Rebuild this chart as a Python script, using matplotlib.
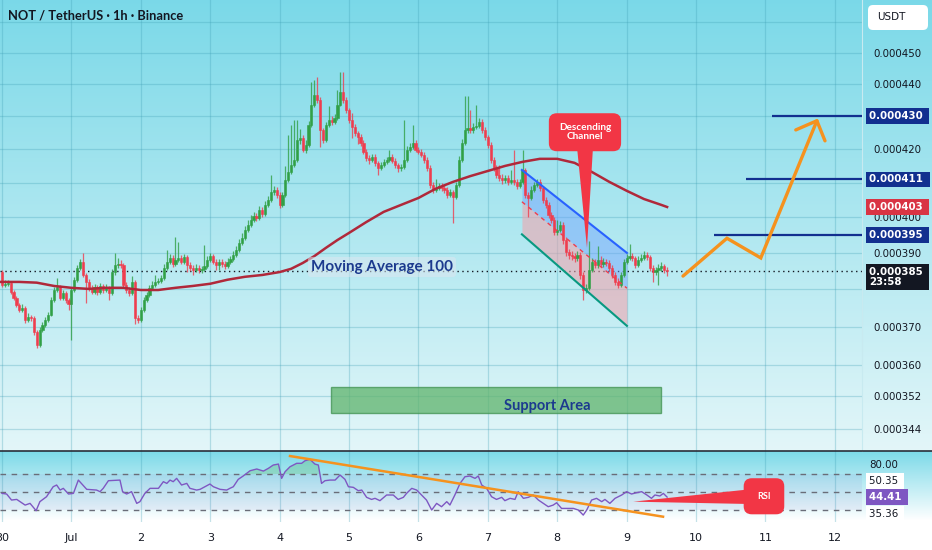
import numpy as np
import matplotlib.pyplot as plt
from matplotlib.patches import FancyBboxPatch, Polygon, Rectangle
from matplotlib.lines import Line2D
from matplotlib.ticker import FixedLocator, NullLocator, FuncFormatter, NullFormatter

# prices are in millionths of USDT (0.000385 -> 385.0), x is hours since 30 Jun 00:00
first_open = 384.7
closes = [
    381.2, 381.5, 381.8, 379.3, 377.7, 375.8, 374.5, 375.0, 371.8, 372.6, 372.3, 368.6,
    365.2, 369.1, 370.5, 371.8, 373.1, 377.1, 379.8, 380.6, 377.7, 379.0, 377.1, 376.0,
    379.8, 382.6, 385.9, 387.5, 383.9, 382.0, 380.4, 379.3, 380.6, 379.3, 380.9, 379.8,
    380.4, 379.0, 384.7, 386.7, 387.0, 386.7, 381.2, 379.8, 379.0, 382.0, 372.3, 371.8,
    374.5, 377.1, 378.5, 380.4, 381.2, 382.0, 382.3, 383.1, 385.9, 387.5, 388.6, 387.0,
    388.1, 388.6, 387.5, 388.8, 386.7, 385.9, 385.3, 385.9, 385.3, 385.6, 386.4, 388.1,
    389.1, 387.5, 386.7, 387.5, 387.0, 386.4, 387.5, 388.3, 389.4, 390.8, 392.8, 394.2,
    396.5, 397.9, 399.3, 400.4, 399.9, 402.2, 401.0, 403.6, 405.0, 407.4, 408.0, 406.5,
    403.6, 406.5, 410.9, 413.2, 415.3, 416.8, 422.8, 423.4, 419.8, 421.3, 427.3, 433.5,
    436.6, 435.0, 425.8, 422.8, 427.3, 428.9, 428.2, 429.5, 433.5, 437.5, 435.0, 431.9,
    428.9, 426.7, 424.9, 423.7, 421.9, 419.2, 417.4, 416.8, 417.7, 415.9, 414.4, 415.3,
    416.2, 416.8, 417.7, 416.5, 415.3, 414.4, 414.7, 416.8, 419.8, 420.7, 421.9, 419.8,
    419.2, 418.3, 416.8, 414.4, 409.4, 408.0, 408.5, 409.1, 408.5, 408.0, 406.5, 407.4,
    405.9, 409.4, 416.8, 421.9, 425.8, 426.4, 425.8, 426.7, 427.0, 428.2, 425.8, 423.7,
    421.3, 416.8, 414.4, 412.3, 411.5, 410.9, 411.5, 410.3, 410.9, 410.3, 409.1, 410.3,
    413.8, 406.5, 405.6, 408.0, 409.4, 410.3, 408.5, 405.0, 403.6, 400.7, 399.3, 395.9,
    396.5, 397.9, 393.6, 390.2, 389.4, 389.1, 388.6, 389.4, 383.9, 379.8, 380.4, 385.3,
    387.5, 386.7, 388.1, 387.0, 387.5, 387.2, 385.9, 383.9, 382.0, 381.2, 383.9, 387.5,
    388.6, 389.1, 388.6, 386.7, 388.1, 388.6, 389.4, 388.8, 385.9, 384.7, 385.3, 385.9,
    386.4, 385.3, 385.0,
]
highs = [
    385.3, 382.4, 382.6, 382.3, 379.9, 378.2, 376.4, 375.9, 375.4, 373.5, 373.2, 372.8,
    369.0, 369.8, 371.2, 372.6, 374.0, 377.9, 380.6, 383.2, 381.2, 379.8, 379.5, 377.6,
    380.5, 383.4, 386.6, 388.4, 390.0, 384.5, 382.7, 381.1, 381.5, 381.2, 381.8, 381.5,
    381.3, 381.0, 385.6, 390.0, 388.6, 387.9, 387.2, 381.9, 380.6, 383.6, 382.6, 373.0,
    375.3, 377.9, 379.3, 381.2, 382.3, 384.0, 383.2, 384.0, 386.8, 390.8, 389.6, 389.3,
    394.4, 393.0, 389.4, 389.8, 389.4, 387.4, 386.6, 386.8, 386.7, 386.5, 392.2, 389.0,
    390.0, 389.8, 388.2, 388.4, 388.3, 387.7, 388.5, 389.2, 390.4, 392.0, 393.8, 395.5,
    397.6, 399.2, 400.6, 401.5, 401.3, 403.3, 403.0, 404.8, 406.2, 412.3, 409.2, 408.8,
    407.2, 407.4, 415.0, 424.3, 427.3, 428.9, 428.9, 426.0, 424.2, 422.6, 428.5, 440.6,
    441.3, 442.3, 436.0, 426.5, 428.2, 433.2, 430.0, 430.6, 438.1, 443.8, 443.8, 435.8,
    432.6, 431.0, 427.6, 425.6, 424.5, 422.6, 420.0, 418.2, 418.6, 418.4, 416.6, 416.2,
    417.1, 417.6, 419.8, 418.4, 417.2, 416.0, 415.6, 428.9, 420.8, 421.8, 427.3, 422.6,
    420.6, 420.0, 419.0, 417.5, 415.3, 410.3, 411.2, 410.0, 410.0, 409.4, 408.8, 408.3,
    408.0, 410.3, 417.8, 423.0, 436.3, 436.3, 432.0, 427.8, 433.5, 429.3, 429.0, 426.6,
    424.4, 422.0, 417.5, 415.3, 415.3, 412.5, 412.4, 412.3, 413.8, 419.8, 411.2, 411.2,
    419.8, 414.5, 407.4, 409.0, 410.3, 411.2, 411.0, 409.2, 405.8, 404.4, 401.6, 400.2,
    399.3, 399.0, 398.6, 394.4, 391.1, 390.4, 390.0, 390.5, 390.2, 384.6, 381.4, 393.2,
    388.6, 388.4, 392.0, 389.0, 388.5, 388.3, 388.0, 386.6, 384.6, 383.0, 384.8, 388.4,
    389.8, 392.4, 390.0, 389.2, 389.0, 389.6, 390.6, 390.2, 389.4, 386.6, 386.2, 386.8,
    387.6, 387.0, 386.2,
]
lows = [
    380.6, 380.5, 380.9, 378.6, 377.0, 375.1, 373.8, 373.9, 371.0, 371.2, 371.4, 367.9,
    364.3, 364.6, 368.6, 370.0, 371.2, 372.8, 376.6, 379.2, 377.0, 377.1, 376.4, 374.5,
    366.5, 379.2, 382.0, 385.3, 383.3, 376.3, 379.6, 378.6, 378.8, 378.5, 378.8, 379.0,
    379.2, 377.1, 378.5, 384.0, 385.9, 385.8, 380.5, 379.0, 378.3, 378.5, 370.8, 370.9,
    371.2, 374.0, 376.6, 378.0, 379.8, 380.6, 381.4, 381.7, 382.6, 385.2, 386.9, 386.2,
    386.4, 387.4, 386.8, 386.9, 384.7, 385.0, 384.0, 384.6, 384.5, 384.4, 385.0, 385.8,
    387.5, 386.8, 385.3, 385.3, 386.2, 385.6, 385.8, 386.9, 387.8, 388.9, 390.2, 392.2,
    393.6, 395.9, 397.3, 398.7, 399.0, 399.3, 400.2, 400.4, 403.0, 404.5, 406.6, 405.6,
    402.8, 403.0, 406.0, 410.3, 412.6, 414.6, 416.2, 421.6, 419.0, 418.9, 420.7, 426.7,
    432.8, 434.0, 420.7, 421.9, 422.2, 426.6, 427.4, 427.5, 428.8, 433.0, 434.2, 431.0,
    428.0, 423.4, 423.9, 421.6, 420.9, 418.4, 416.4, 415.6, 416.1, 414.9, 412.4, 413.8,
    414.8, 415.6, 416.2, 415.8, 414.5, 413.1, 413.6, 414.1, 416.2, 419.1, 420.1, 419.0,
    418.4, 417.5, 416.0, 413.6, 408.6, 407.1, 407.3, 407.8, 407.6, 407.1, 405.7, 405.9,
    398.3, 405.2, 408.8, 416.2, 421.2, 424.9, 424.8, 425.0, 426.0, 426.3, 425.0, 422.8,
    420.4, 416.0, 413.5, 411.4, 410.6, 409.8, 410.0, 409.4, 409.6, 409.4, 408.3, 408.4,
    409.6, 405.6, 400.2, 404.9, 407.3, 408.8, 407.7, 404.2, 402.6, 399.8, 398.3, 395.0,
    395.0, 395.8, 392.6, 389.2, 388.2, 388.0, 387.6, 387.8, 382.9, 377.1, 378.9, 379.8,
    384.7, 385.8, 385.9, 386.2, 386.2, 386.4, 385.0, 383.0, 381.2, 380.4, 380.6, 383.3,
    386.9, 388.0, 387.8, 385.8, 386.0, 387.4, 388.0, 387.9, 384.9, 382.0, 383.8, 381.2,
    385.0, 384.4, 383.5,
]

# moving average 100
ma_hours = [-1, 6, 12, 18, 24, 30, 36, 42, 48, 54, 60, 66, 72, 78, 84, 90, 96, 100, 104,
            108, 112, 116, 120, 126, 132, 138, 144, 150, 156, 162, 168, 174, 180, 186,
            192, 198, 204, 210, 216, 222, 228, 230]
ma_values = [382.0, 382.0, 381.8, 380.9, 380.4, 380.1, 380.4, 380.4, 379.8, 379.8, 380.4,
             380.9, 381.5, 382.6, 383.4, 383.9, 384.7, 385.6, 387.2, 389.1, 391.4, 393.6,
             395.6, 398.7, 401.6, 403.6, 405.6, 408.3, 410.3, 412.0, 413.5, 415.0, 416.2,
             417.1, 417.1, 415.9, 413.2, 410.3, 407.7, 405.3, 403.6, 403.0]

# RSI line
rsi_hours = [0, 1.6, 3.3, 5.1, 8.0, 9.7, 11.8, 13.1, 15.4, 17.7, 18.9, 20.1, 21.2, 23.0,
             24.7, 26.4, 29.3, 32.7, 33.9, 35.0, 36.8, 40.8, 41.7, 43.1, 44.8, 46.6, 47.7,
             49.4, 51.2, 54.1, 55.8, 57.0, 58.1, 59.2, 60.4, 62.1, 63.9, 65.0, 67.3, 68.5,
             71.9, 73.1, 75.4, 77.7, 78.8, 80.0, 81.7, 83.4, 85.8, 88.1, 90.4, 92.1, 93.8,
             95.6, 96.7, 97.9, 99.6, 101.9, 103.6, 104.8, 106.5, 108.2, 109.4, 110.5, 111.7,
             113.4, 115.2, 116.9, 118.6, 119.8, 121.5, 123.2, 124.4, 126.1, 127.8, 129.0,
             130.7, 133.0, 135.3, 137.0, 138.8, 139.9, 141.7, 143.4, 145.1, 146.8, 148.6,
             150.3, 152.0, 153.8, 154.9, 156.6, 158.4, 160.1, 161.8, 163.6, 164.7, 165.9,
             167.6, 169.3, 171.0, 172.8, 173.9, 175.7, 177.4, 178.5, 180.3, 182.0, 183.7,
             185.5, 187.2, 188.9, 190.6, 191.8, 193.5, 195.8, 197.6, 199.3, 201.0, 202.2,
             203.9, 205.6, 207.4, 208.5, 210.2, 212.0, 214.3, 216.0, 217.7, 219.5, 221.2,
             223.0, 224.6, 225.8, 227.5, 228.7, 230.0]
rsi_values = [48.5, 47.8, 41.1, 41.8, 35.5, 37.4, 29.3, 39.3, 44.8, 55.9, 57.8, 52.2, 54.1,
              47.8, 48.5, 63.3, 53.0, 52.2, 50.4, 54.1, 62.6, 63.3, 50.4, 47.8, 50.4, 37.4,
              39.3, 48.5, 54.1, 54.1, 61.5, 59.6, 63.3, 61.5, 65.2, 57.8, 59.6, 54.1, 52.2,
              53.0, 58.9, 55.9, 53.0, 52.2, 54.1, 55.9, 64.1, 67.8, 73.7, 75.6, 73.3, 76.3,
              80.0, 81.1, 65.2, 72.6, 78.1, 81.9, 81.9, 84.8, 86.3, 81.1, 80.0, 59.6, 62.6,
              63.3, 63.3, 68.9, 64.1, 55.9, 55.2, 51.5, 52.2, 44.1, 41.8, 43.0, 40.4, 46.7,
              46.7, 41.8, 44.1, 48.5, 54.1, 52.2, 46.7, 41.1, 30.0, 37.4, 33.7, 39.3, 35.6,
              46.7, 59.6, 67.0, 67.8, 65.2, 67.8, 57.8, 54.1, 44.8, 41.8, 44.1, 40.4, 43.0,
              41.8, 50.4, 43.0, 44.1, 46.7, 41.1, 37.4, 33.7, 35.5, 38.1, 31.8, 31.8, 31.8,
              30.0, 24.4, 30.0, 41.1, 43.0, 39.3, 41.8, 37.4, 43.0, 46.7, 50.4, 47.8, 49.3,
              50.4, 46.7, 43.0, 46.7, 45.6, 48.5, 44.4]
rsi_trend_hours = [99.6, 228.6]
rsi_trend_values = [90.0, 22.6]

# drawings on the price pane
chan_hours = [179.8, 216.1]
chan_upper = [413.8, 390.0]
chan_mid = [404.5, 380.3]
chan_lower = [395.2, 370.2]

targets = [430.0, 411.0, 395.0]
target_starts = [266.3, 257.3, 246.2]

path_hours = [235.5, 250.7, 262.4, 281.8]
path_prices = [383.6, 394.1, 388.6, 428.6]
head_hours = [274.5, 281.8, 284.6]
head_prices = [425.8, 428.6, 422.5]

support_hours = (113.8, 227.9)
support_prices = (347.9, 354.4)

label_levels = [450, 440, 420, 400, 390, 370, 360, 352, 344]
grid_levels = [460, 450, 440, 430, 420, 410, 400, 390, 380, 370, 360, 352, 344]
day_labels = ['30', 'Jul', '2', '3', '4', '5', '6', '7', '8', '9', '10', '11', '12']

GREEN = '#31a046'
RED = '#ef3d4e'
ORANGE = '#f5921e'
NAVY = '#12308f'
TXT = '#131722'
GRID = '#3f9fb5'

W, H = 932, 550
fig = plt.figure(figsize=(W / 100, H / 100), dpi=100)

# background gradients (price pane and rsi pane)
bg = fig.add_axes([0, 0, 1, 1], zorder=-5)
bg.axis('off')
grad = np.ones((H, 1, 3))
top, bot = np.array([0.48, 0.85, 0.91]), np.array([0.89, 0.965, 0.975])
t = np.linspace(0, 1, 451)[:, None]
grad[:451, 0, :] = top * (1 - t) + bot * t
t2 = np.linspace(0, 1, 70)[:, None]
grad[451:521, 0, :] = np.array([0.49, 0.855, 0.91]) * (1 - t2) + np.array([1, 1, 1]) * t2
bg.imshow(grad, aspect='auto', extent=(0, 1, 0, 1))
bg.set_xlim(0, 1)
bg.set_ylim(0, 1)

ax = fig.add_axes([0, 99 / H, 862 / W, 451 / H])
rsi = fig.add_axes([0, 28 / H, 862 / W, 71 / H], sharex=ax)
for a in (ax, rsi):
    a.set_facecolor('none')
    for s in a.spines.values():
        s.set_visible(False)
ax.spines['right'].set_visible(True)
ax.spines['right'].set_color('#c8eaf0')

ax.set_yscale('log')
ax.set_ylim(338.55, 467.2)
ax.set_xlim(-0.69, 297.4)

for lv in grid_levels:
    ax.axhline(lv, color=GRID, alpha=0.3, lw=0.9, zorder=0)
for d in range(13):
    ax.axvline(d * 24, color=GRID, alpha=0.3, lw=0.9, zorder=0)
    rsi.axvline(d * 24, color=GRID, alpha=0.3, lw=0.9, zorder=0)

ax.yaxis.tick_right()
ax.yaxis.set_major_locator(FixedLocator(label_levels))
ax.yaxis.set_minor_locator(NullLocator())
ax.yaxis.set_major_formatter(FuncFormatter(lambda v, _: f"{v * 1e-6:.6f}"))
ax.yaxis.set_minor_formatter(NullFormatter())
ax.tick_params(axis='y', length=0, pad=8, labelsize=7.4, labelcolor=TXT)
ax.tick_params(axis='x', bottom=False, labelbottom=False)

# candles
hours = np.arange(len(closes))
c = np.array(closes)
o = np.r_[first_open, c[:-1]]
hi = np.maximum(np.array(highs), np.maximum(o, c))
lo = np.minimum(np.array(lows), np.minimum(o, c))
cols = np.where(c >= o, GREEN, RED)
ax.vlines(hours, lo, hi, colors=cols, lw=0.9, alpha=0.8, zorder=3)
ax.bar(hours, np.abs(c - o), bottom=np.minimum(o, c), width=0.75, color=cols,
       edgecolor=cols, lw=0.4, zorder=4)

# current price line and MA
ax.axhline(closes[-1], color=TXT, lw=1, ls=(0, (1, 2.5)), zorder=2)
ax.plot(ma_hours, ma_values, color='#b0283a', lw=1.8, zorder=5)
ax.text(131.4, 386.1, 'Moving Average 100', family='Lato', fontsize=11, fontweight='bold',
        color='#1c3a8e', ha='center', va='center', zorder=6,
        bbox=dict(boxstyle='round,pad=0.2', fc='#dbe6f0', ec='none', alpha=0.55))

# descending channel
ax.fill_between(chan_hours, chan_mid, chan_upper, color='#6fa0ff', alpha=0.45, lw=0, zorder=2)
ax.fill_between(chan_hours, chan_lower, chan_mid, color='#f4a0aa', alpha=0.55, lw=0, zorder=2)
ax.plot(chan_hours, chan_upper, color='#2962ff', lw=1.5, zorder=5)
ax.plot(chan_hours, chan_lower, color='#089981', lw=1.5, zorder=5)
ax.plot(chan_hours, chan_mid, color=RED, lw=1, ls=(0, (3, 3)), zorder=5)

ax.add_patch(Polygon([(198.8, 421.0), (204.4, 421.0), (202.3, 391.4)], closed=True,
                     fc='#f23645', ec='none', zorder=7))
ax.text(201.6, 425.1, 'Descending\nChannel', family='Lato', fontsize=7.2, fontweight='bold',
        color='white', ha='center', va='center', linespacing=1.0, zorder=8,
        bbox=dict(boxstyle='round,pad=1.0,rounding_size=0.8', fc='#f23645', ec='none'))

# targets and projected path
ax.hlines(targets, target_starts, 297.4, color=NAVY, lw=1.6, zorder=5)
ax.plot(path_hours, path_prices, color=ORANGE, lw=2.4, solid_capstyle='round',
        solid_joinstyle='miter', zorder=6)
ax.plot(head_hours, head_prices, color=ORANGE, lw=2.4, solid_capstyle='round', zorder=6)

# support area
ax.add_patch(Rectangle((support_hours[0], support_prices[0]),
                       support_hours[1] - support_hours[0],
                       support_prices[1] - support_prices[0],
                       fc='#5fb46c', ec='#3f9150', lw=1, alpha=0.75, zorder=2))
ax.text(188.4, 349.7, 'Support Area', family='Lato', fontsize=10.5, fontweight='bold',
        color='#1c3a8e', ha='center', va='center', zorder=6)


def badge(axis, value, text, fc, tc='white', dy=0, weight='bold'):
    axis.annotate(text, xy=(1, value), xycoords=('axes fraction', 'data'),
                  xytext=(7, dy), textcoords='offset pixels', ha='left', va='center',
                  fontsize=7.4, color=tc, fontweight=weight, annotation_clip=False,
                  linespacing=1.1, zorder=10,
                  bbox=dict(boxstyle='square,pad=0.28', fc=fc, ec='none'))


badge(ax, 430.0, '0.000430 ', NAVY)
badge(ax, 411.0, '0.000411 ', NAVY)
badge(ax, 403.0, '0.000403 ', '#d93444')
badge(ax, 395.0, '0.000395 ', NAVY)
badge(ax, closes[-1], '0.000385 \n23:58', TXT, dy=-6)

# RSI pane
rsi.set_ylim(16.7, 95.6)
rsi.set_yticks([])
rsi.axhspan(30, 70, color='#7e57c2', alpha=0.08, lw=0, zorder=0)
for lv in (70, 50, 30):
    rsi.axhline(lv, color='#6a6d78', lw=1, ls=(0, (4, 4)), zorder=1)
rv = np.array(rsi_values)
rsi.fill_between(rsi_hours, 70, rv, where=rv > 70, interpolate=True, color='#4caf50',
                 alpha=0.25, lw=0, zorder=1)
rsi.plot(rsi_hours, rsi_values, color='#7e57c2', lw=1, zorder=3)
rsi.plot(rsi_trend_hours, rsi_trend_values, color=ORANGE, lw=1.8, zorder=4)
rsi.add_patch(Polygon([(218.3, 39.3), (258.5, 53.0), (258.5, 36.7)], closed=True,
                      fc='#f23645', ec='none', zorder=5))
rsi.text(263.5, 45.3, 'RSI', family='Lato', fontsize=6.5, fontweight='bold', color='white',
         ha='center', va='center', zorder=6,
         bbox=dict(boxstyle='round,pad=1.5,rounding_size=0.9', fc='#f23645', ec='none'))

badge(rsi, 80.0, '80.00', 'none', tc=TXT, weight='normal')
badge(rsi, 50.35, '50.35 ', 'white', tc=TXT, dy=11, weight='normal')
badge(rsi, 44.41, '44.41 ', '#7e57c2')
badge(rsi, 35.36, '35.36 ', 'white', tc=TXT, dy=-9, weight='normal')

rsi.set_xticks([d * 24 for d in range(13)])
rsi.set_xticklabels(day_labels)
rsi.tick_params(axis='x', length=0, pad=8, labelsize=8, labelcolor=TXT)

# pane separator, title and currency box
fig.add_artist(Line2D([0, 1], [1 - 451 / H] * 2, transform=fig.transFigure,
                      color='#2a2e39', lw=1.2))
fig.text(8 / W, 1 - 16 / H, 'NOT / TetherUS · 1h · Binance', family='Lato', fontsize=9.3,
         fontweight='bold', color=TXT, ha='left', va='center')
fig.add_artist(FancyBboxPatch((8.68, 5.5 - 0.30), 0.60, 0.25,
                              boxstyle='round,pad=0,rounding_size=0.05',
                              transform=fig.dpi_scale_trans, fc='white', ec='none'))
fig.text(877 / W, 1 - 17.5 / H, 'USDT', fontsize=7.5, color=TXT, ha='left', va='center')

fig.savefig('out.png', dpi=100)
